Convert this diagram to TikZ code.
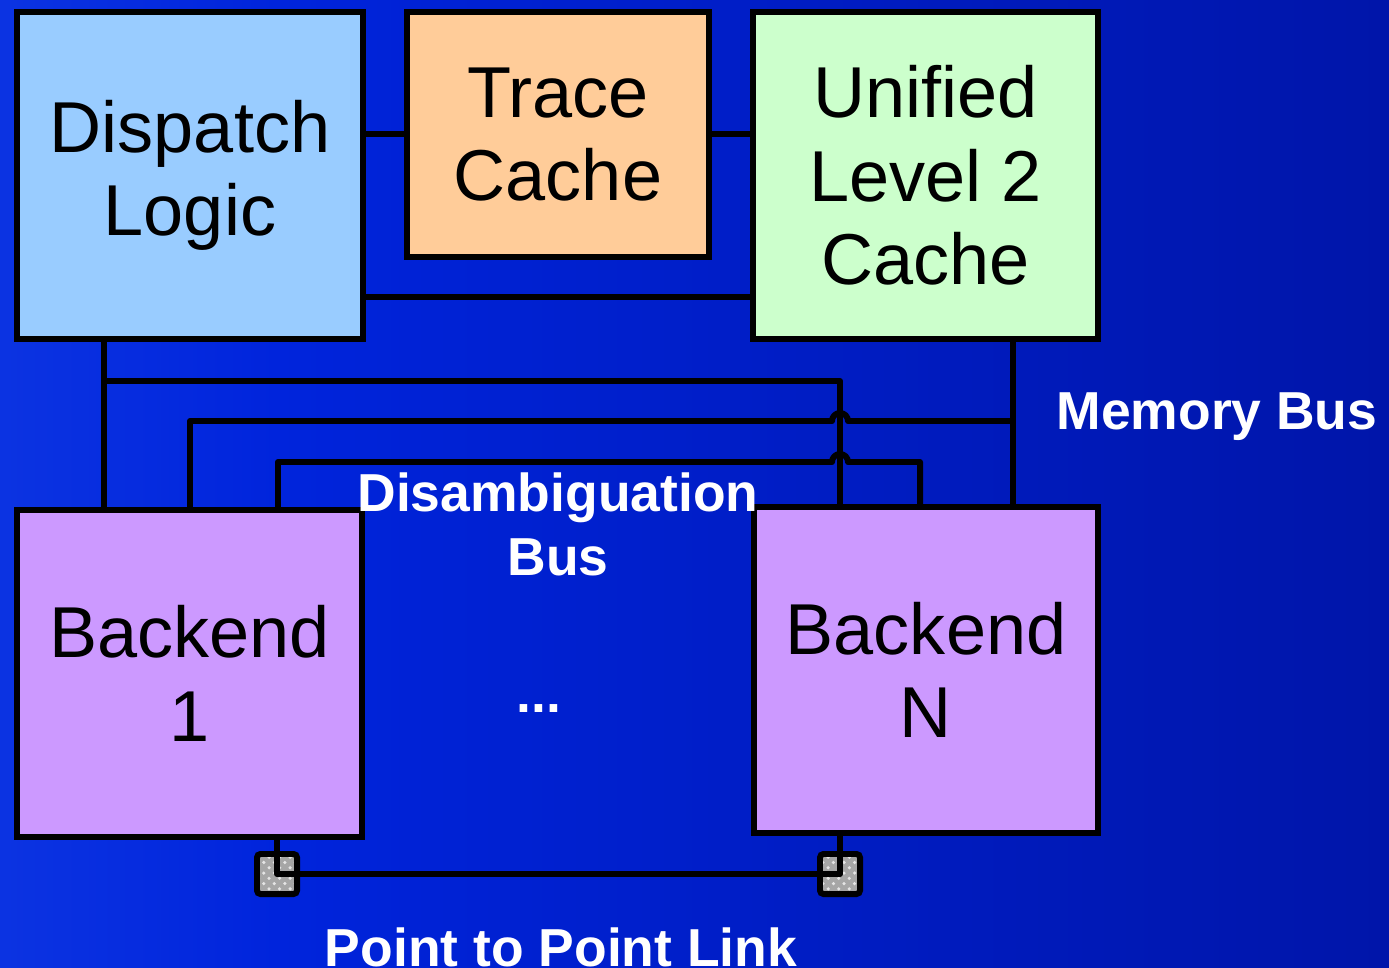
\documentclass[tikz,border=0pt]{standalone}
\usepackage{fontspec}
\setmainfont{Liberation Sans}
\usetikzlibrary{patterns}

\definecolor{dispatchblue}{RGB}{153,204,255}
\definecolor{traceorange}{RGB}{255,204,153}
\definecolor{cachegreen}{RGB}{204,255,204}
\definecolor{backendviolet}{RGB}{204,153,255}
\definecolor{bgleft}{RGB}{40,90,240}
\definecolor{bgmid}{RGB}{0,36,220}
\definecolor{bgright}{RGB}{0,12,138}
\pgfdeclarehorizontalshading{bgshade}{100bp}{color(0bp)=(bgleft); color(35bp)=(bgmid); color(100bp)=(bgright)}

\tikzset{
  unit/.style={draw=black, line width=1.7pt, align=center, inner sep=0pt,
    font=\fontsize{20.5}{23.7}\selectfont},
  bus/.style={line width=1.7pt, line join=round},
  buslabel/.style={text=white, align=center, font=\fontsize{15.2}{18.3}\selectfont\bfseries},
  port/.style={draw=black, line width=1.7pt, rounded corners=1pt, minimum size=0.4cm, inner sep=0pt,
    preaction={fill=gray!70}, pattern=crosshatch dots, pattern color=gray!20},
}

\begin{document}
\begin{tikzpicture}[x=0.01cm, y=-0.01cm]
    \useasboundingbox (0,0) rectangle (1389,968);
    \shade[shading=bgshade] (0,0) rectangle (1389,968);

    % units
    \node[unit, fill=dispatchblue, minimum width=3.46cm, minimum height=3.27cm] (dispatch) at (190,175.5) {Dispatch\\Logic};
    \node[unit, fill=traceorange, minimum width=3.02cm, minimum height=2.45cm] (trace) at (558,134.5) {Trace\\Cache};
    \node[unit, fill=cachegreen, minimum width=3.45cm, minimum height=3.27cm] (unified) at (925.5,175.5) {Unified\\Level 2\\Cache};
    \node[unit, fill=backendviolet, minimum width=3.45cm, minimum height=3.27cm] (backA) at (189.5,673.5) {Backend\\1};
    \node[unit, fill=backendviolet, minimum width=3.44cm, minimum height=3.26cm] (backN) at (926,670) {Backend\\N};

    \draw[bus] (dispatch.east |- trace.west) -- (trace.west);
    \draw[bus] (trace.east) -- (unified.west |- trace.east);
    \draw[bus] (dispatch.east |- 0,297) -- (unified.west |- 0,297);

    % dispatch bus
    \draw[bus] (dispatch.south -| 104,0) -- (backA.north -| 104,0);
    \draw[bus] (104,381) -| (backN.north -| 840,0);
    % memory bus
    \draw[bus] (backA.north -| 190,0) |- (832,421) arc[start angle=180, end angle=0, radius=0.08cm] -- (1013,421);
    \draw[bus] (unified.south -| 1013,0) -- (backN.north -| 1013,0);
    % disambiguation bus
    \draw[bus] (backA.north -| 278,0) |- (832,462) arc[start angle=180, end angle=0, radius=0.08cm] -| (backN.north -| 920,0);

    % point to point link
    \node[port] (portA) at (277,874) {};
    \node[port] (portN) at (840,874) {};
    \draw[bus] (backA.south -| portA) -- (portA.center) -- (portN.center) -- (backN.south -| portN);

    \node[buslabel, anchor=base] (membus) at (1217,430) {Memory Bus};
    \node[buslabel, anchor=base] (disbus) at (558,576) {Disambiguation\\Bus};
    \node[buslabel, anchor=base] (dots) at (539,712) {...};
    \node[buslabel, anchor=base] (p2p) at (561,966) {Point to Point Link};
\end{tikzpicture}
\end{document}
